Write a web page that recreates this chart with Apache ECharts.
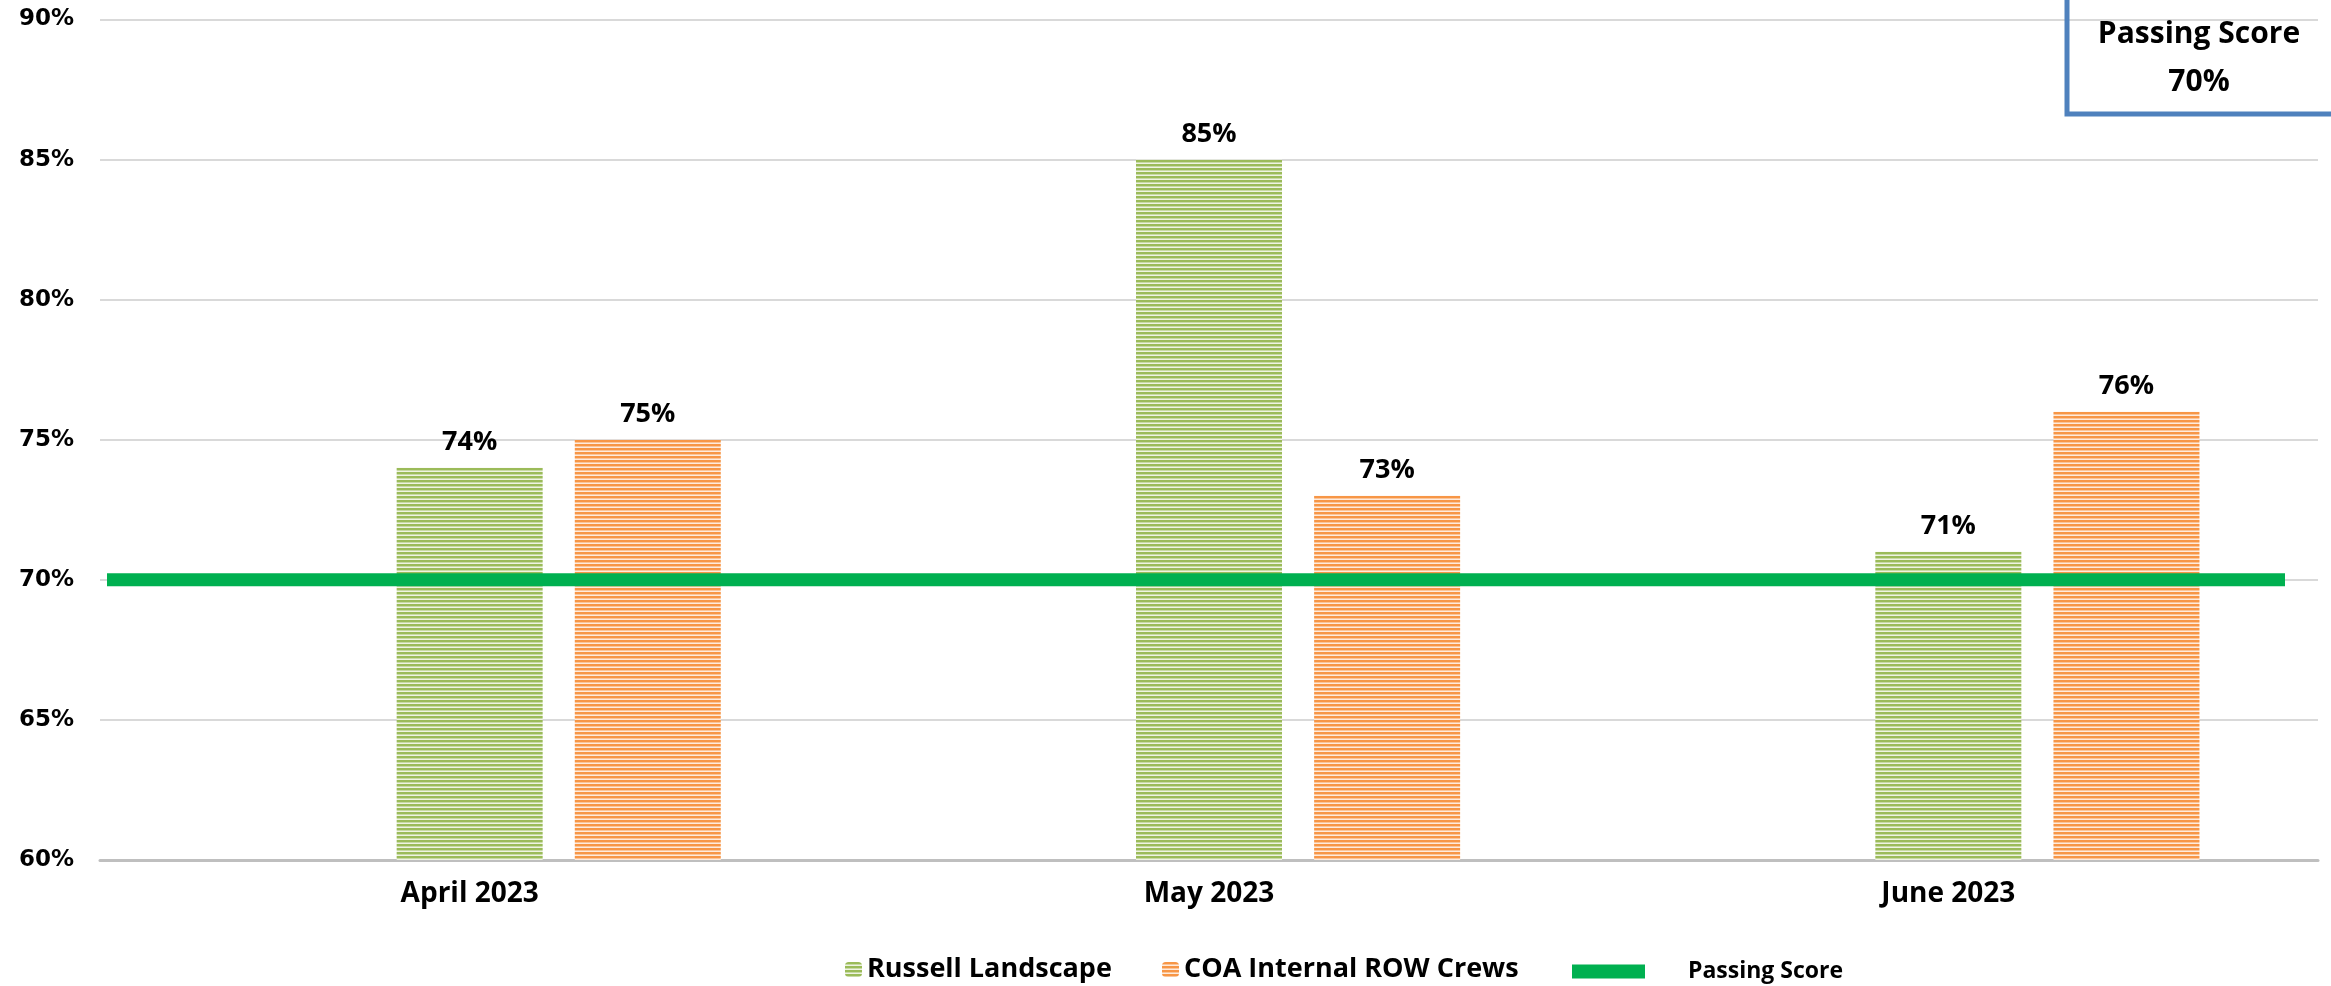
<!DOCTYPE html>
<html>
<head>
<meta charset="utf-8">
<script src="https://cdn.jsdelivr.net/npm/echarts@6/dist/echarts.min.js"></script>
<style>
html,body{margin:0;padding:0;background:#fff;}
#chart{width:2331px;height:986px;}
</style>
</head>
<body>
<div id="chart"></div>
<script>
const months = ['April 2023', 'May 2023', 'June 2023'];
const russell = [74, 85, 71];
const coaCrews = [75, 73, 76];
const passingScore = [70, 70];
const yTicks = { min: 60, max: 90, step: 5 };

function stripe(color, light) {
  const c = document.createElement('canvas');
  c.width = 8; c.height = 4;
  const g = c.getContext('2d');
  g.fillStyle = color; g.fillRect(0, 0, 8, 2);
  g.globalAlpha = 0.55; g.fillRect(0, 2, 8, 1);
  g.globalAlpha = 1; g.fillStyle = light; g.fillRect(0, 3, 8, 1);
  return { image: c, repeat: 'repeat' };
}
const greenPat = stripe('#9BBB59', '#EEF3E2');
const orangePat = stripe('#F79646', '#FEEBDD');

const chart = echarts.init(document.getElementById('chart'), null, { renderer: 'canvas' });
const labelFont = { fontFamily: 'Open Sans', fontWeight: 'bold', color: '#000' };

chart.setOption({
  animation: false,
  grid: [
    { left: 100, right: 13, top: 19.5, bottom: 126 },
    { left: 107, right: 46, top: 19.5, bottom: 126 }
  ],
  xAxis: [
    {
      type: 'category', data: months, gridIndex: 0,
      axisLine: { lineStyle: { color: '#BFBFBF', width: 3 } },
      axisTick: { show: false },
      axisLabel: Object.assign({ fontSize: 28, margin: 20 }, labelFont)
    },
    { type: 'category', data: ['', ''], gridIndex: 1, boundaryGap: false, show: false }
  ],
  yAxis: [
    {
      type: 'value', gridIndex: 0, min: yTicks.min, max: yTicks.max, interval: yTicks.step,
      axisLine: { show: false }, axisTick: { show: false },
      splitLine: { lineStyle: { color: '#D9D9D9', width: 2 } },
      axisLabel: { formatter: '{value}%', fontFamily: 'DejaVu Sans', fontWeight: 'bold', fontSize: 23, color: '#000', margin: 26 }
    },
    { type: 'value', gridIndex: 1, min: yTicks.min, max: yTicks.max, show: false }
  ],
  legend: [
    {
      data: ['Russell Landscape'], left: 840, top: 951, itemWidth: 17, itemHeight: 15,
      textStyle: { fontFamily: 'Open Sans', fontWeight: 'bold', fontSize: 27, color: '#000' }
    },
    {
      data: ['COA Internal ROW Crews'], left: 1157, top: 951, itemWidth: 17, itemHeight: 15,
      textStyle: { fontFamily: 'Open Sans', fontWeight: 'bold', fontSize: 27, color: '#000' }
    },
    {
      data: [{ name: 'Passing Score', icon: 'rect' }], left: 1567, top: 955, itemWidth: 73, itemHeight: 14,
      textStyle: { fontFamily: 'Open Sans', fontWeight: 'bold', fontSize: 23, color: '#000', padding: [4, 0, 0, 38] }
    }
  ],
  series: [
    { name: 'spacer', type: 'bar', data: months.map(() => '-'), barWidth: 146, barGap: '22%', silent: true },
    {
      name: 'Russell Landscape', type: 'bar', data: russell, barWidth: 146, barGap: '22%',
      itemStyle: { color: greenPat },
      label: Object.assign({ show: true, position: 'top', distance: 12, fontSize: 27, formatter: '{c}%' }, labelFont)
    },
    {
      name: 'COA Internal ROW Crews', type: 'bar', data: coaCrews, barWidth: 146, barGap: '22%',
      itemStyle: { color: orangePat },
      label: Object.assign({ show: true, position: 'top', distance: 12, fontSize: 27, formatter: '{c}%' }, labelFont)
    },
    {
      name: 'Passing Score', type: 'line', xAxisIndex: 1, yAxisIndex: 1, data: passingScore,
      symbol: 'none', z: 5,
      lineStyle: { color: '#00B050', width: 13 }, itemStyle: { color: '#00B050' }
    }
  ],
  graphic: [
    {
      type: 'rect', shape: { x: 2067, y: -10, width: 300, height: 124 },
      style: { fill: 'transparent', stroke: '#4F81BD', lineWidth: 5 }, z: 10
    },
    {
      type: 'text', x: 2199, y: 58, z: 11,
      style: {
        text: 'Passing Score\n70%', textAlign: 'center', textVerticalAlign: 'middle',
        font: 'bold 30px "Open Sans"', fill: '#000', lineHeight: 48
      }
    }
  ]
});
</script>
</body>
</html>
